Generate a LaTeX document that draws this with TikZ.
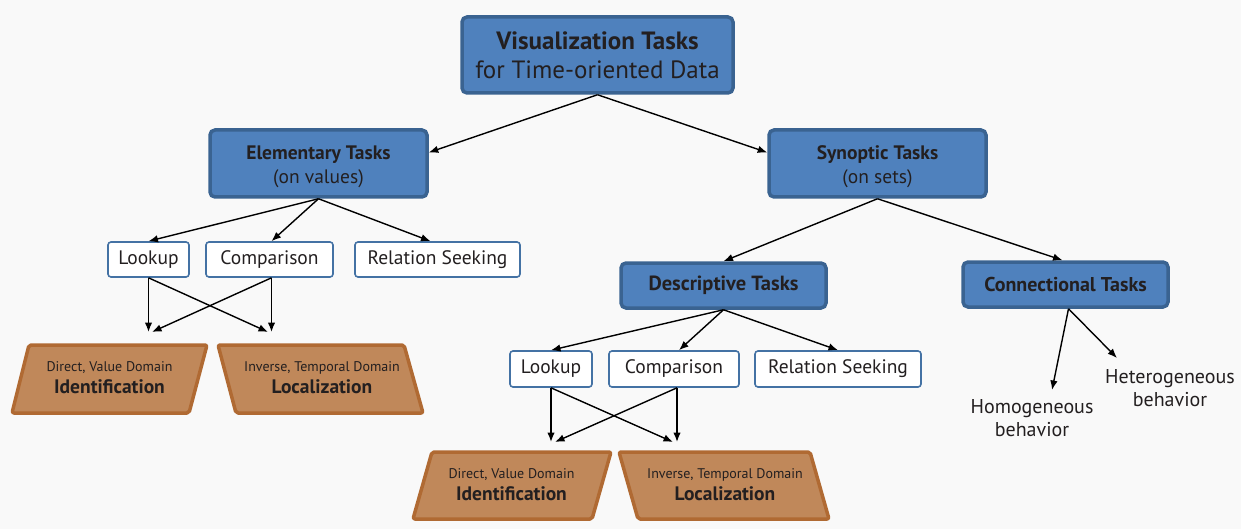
\documentclass[tikz,border=0pt]{standalone}
\usepackage{fontspec}
\setmainfont{PT Sans}
\usetikzlibrary{arrows.meta}
\definecolor{bg}{HTML}{F9F9F9}
\definecolor{bluefill}{HTML}{4F81BD}
\definecolor{blueedge}{HTML}{3A6391}
\definecolor{subedge}{HTML}{4472A4}
\definecolor{brownfill}{HTML}{C0885A}
\definecolor{brownedge}{HTML}{B06A33}
\definecolor{txt}{HTML}{231F20}
\begin{document}
\begin{tikzpicture}[x=1pt,y=-1pt,
  mainbox/.style={draw=blueedge, fill=bluefill, line width=3.5pt, rounded corners=5pt,
    text=txt, align=center, inner sep=0pt},
  subbox/.style={draw=subedge, fill=white, line width=1.6pt, rounded corners=3pt, text=txt,
    inner sep=0pt, minimum height=35pt, font=\fontsize{19.5}{22}\selectfont},
  para/.style={draw=brownedge, fill=brownfill, line width=3.5pt, rounded corners=2pt, line join=round},
  ptext/.style={text=txt, align=center, inner sep=0pt, font=\fontsize{19.5}{22}\selectfont},
  plain/.style={text=txt, align=center, inner sep=0pt, font=\fontsize{20}{23}\selectfont},
  arr/.style={-{Latex[length=9.5pt,width=7.5pt]}, line width=1.4pt, black}]
\useasboundingbox (0,0) rectangle (1241,529);
\fill[bg] (0,0) rectangle (1241,529);

% main boxes
\node[mainbox, minimum width=271pt, minimum height=76pt, font=\fontsize{25}{29}\selectfont] (top) at (597.5,55)
  {\textbf{Visualization Tasks}\\for Time-oriented Data};
\node[mainbox, minimum width=217pt, minimum height=67pt, text height=44pt, font=\fontsize{19.5}{24}\selectfont] (elem) at (318.5,163.5)
  {\textbf{Elementary Tasks}\\(on values)};
\node[mainbox, minimum width=217pt, minimum height=67pt, text height=44pt, font=\fontsize{19.5}{24}\selectfont] (syn) at (877.5,163.5)
  {\textbf{Synoptic Tasks}\\(on sets)};
\node[mainbox, minimum width=205pt, minimum height=45pt, font=\fontsize{20.5}{22}\selectfont\bfseries] (desc) at (723.5,285.5) {Descriptive Tasks};
\node[mainbox, minimum width=205pt, minimum height=45pt, font=\fontsize{20}{22}\selectfont\bfseries] (conn) at (1065.5,284.5) {Connectional Tasks};

% sub boxes left
\node[subbox, minimum width=81pt] (look1) at (148.5,259.5) {Lookup};
\node[subbox, minimum width=127pt] (comp1) at (269.5,259.5) {Comparison};
\node[subbox, minimum width=165pt] (rel1) at (437.5,259.5) {Relation Seeking};
% sub boxes right
\node[subbox, minimum width=82pt, minimum height=36pt] (look2) at (551,369) {Lookup};
\node[subbox, minimum width=130pt, minimum height=36pt] (comp2) at (674,369) {Comparison};
\node[subbox, minimum width=166pt, minimum height=36pt] (rel2) at (838,369) {Relation Seeking};

% parallelograms
\draw[para] (29,345) -- (207,345) -- (189,413) -- (12,413) -- cycle;
\draw[para] (218,345) -- (404,345) -- (423,413) -- (236,413) -- cycle;
\draw[para] (432,452) -- (611,452) -- (592,519) -- (413,519) -- cycle;
\draw[para] (619,452) -- (810,452) -- (829,519) -- (638,519) -- cycle;

\node[ptext] (id1) at (109.5,378)
  {{\fontsize{14}{16}\selectfont Direct, Value Domain}\\\textbf{Identification}};
\node[ptext] (loc1) at (322,378)
  {{\fontsize{14}{16}\selectfont Inverse, Temporal Domain}\\\textbf{Localization}};
\node[ptext] (id2) at (511.5,485)
  {{\fontsize{14}{16}\selectfont Direct, Value Domain}\\\textbf{Identification}};
\node[ptext] (loc2) at (725,485)
  {{\fontsize{14}{16}\selectfont Inverse, Temporal Domain}\\\textbf{Localization}};

% free text
\node[plain] (homo) at (1032,418) {Homogeneous\\behavior};
\node[plain] (hetero) at (1170,388) {Heterogeneous\\behavior};

% arrow end coordinates
\coordinate (a1) at (148.5,332);
\coordinate (a2) at (152,332);
\coordinate (a3) at (268,332);
\coordinate (a4) at (271.5,332);
\coordinate (b1) at (551,442);
\coordinate (b2) at (555,442);
\coordinate (b3) at (673,442);
\coordinate (b4) at (677,442);
\coordinate (c1) at (1052,390);
\coordinate (c2) at (1117,358);

% connectors
\draw[arr] (top.south) -- ([yshift=11pt]elem.east);
\draw[arr] (top.south) -- ([yshift=11pt]syn.west);
\draw[arr] (elem.south) -- (look1.north);
\draw[arr] (elem.south) -- ([xshift=2pt]comp1.north);
\draw[arr] (elem.south) -- ([xshift=-7pt]rel1.north);
\draw[arr] (look1.south) -- (a1);
\draw[arr] (look1.south) -- (a3);
\draw[arr] ([xshift=2pt]comp1.south) -- (a4);
\draw[arr] ([xshift=2pt]comp1.south) -- (a2);
\draw[arr] (syn.south) -- (desc.north);
\draw[arr] (syn.south) -- ([xshift=-3pt]conn.north);
\draw[arr] (desc.south) -- (look2.north);
\draw[arr] (desc.south) -- ([xshift=5pt]comp2.north);
\draw[arr] (desc.south) -- (rel2.north);
\draw[arr] (look2.south) -- (b1);
\draw[arr] (look2.south) -- (b3);
\draw[arr] ([xshift=3pt]comp2.south) -- (b4);
\draw[arr] ([xshift=3pt]comp2.south) -- (b2);
\draw[arr] ([xshift=3pt]conn.south) -- (c1);
\draw[arr] ([xshift=3pt]conn.south) -- (c2);
\end{tikzpicture}
\end{document}
